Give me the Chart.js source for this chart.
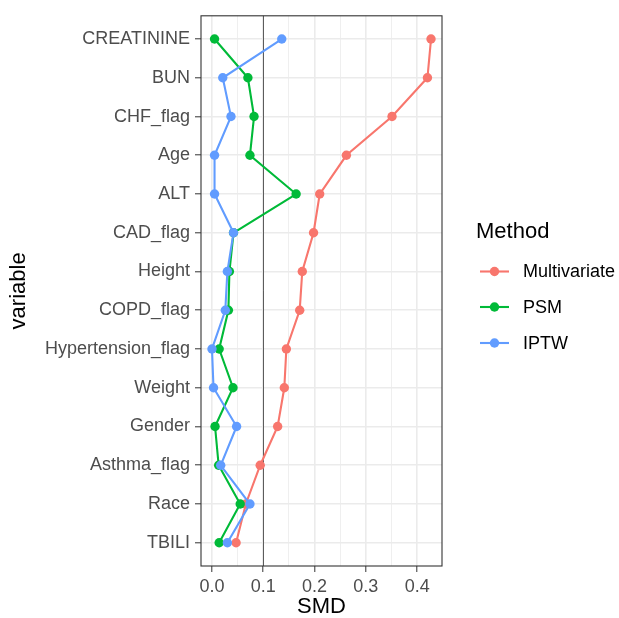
<!DOCTYPE html>
<html>
<head>
<meta charset="utf-8">
<script src="https://cdn.jsdelivr.net/npm/chart.js@4"></script>
<style>
  html, body { margin: 0; padding: 0; background: #fff; }
  #wrap { width: 619px; height: 618px; position: relative; }
</style>
</head>
<body>
<div id="wrap"><canvas id="smd-chart"></canvas></div>
<script>
// Variables, listed top to bottom
const variables = ["CREATININE", "BUN", "CHF_flag", "Age", "ALT", "CAD_flag", "Height",
  "COPD_flag", "Hypertension_flag", "Weight", "Gender", "Asthma_flag", "Race", "TBILI"];

// SMD per method
const multivariate = [0.427, 0.420, 0.351, 0.262, 0.210, 0.198, 0.176, 0.171, 0.145, 0.141, 0.128, 0.094, 0.066, 0.047];
const psm = [0.005, 0.070, 0.082, 0.074, 0.164, 0.042, 0.034, 0.032, 0.014, 0.041, 0.006, 0.013, 0.055, 0.014];
const iptw = [0.136, 0.021, 0.037, 0.005, 0.005, 0.042, 0.030, 0.026, 0.000, 0.003, 0.048, 0.017, 0.074, 0.030];

const methods = ["Multivariate", "PSM", "IPTW"];
const methodColors = ["#F8766D", "#00BA38", "#619CFF"];
const xTicks = [0, 0.05, 0.1, 0.15, 0.2, 0.25, 0.3, 0.35, 0.4];
const threshold = 0.1;

const FONT = "'Liberation Sans', Arial, Helvetica, sans-serif";

const toPoints = (vals) => vals.map((v, i) => ({ x: v, y: i }));

const series = [multivariate, psm, iptw];
const datasets = series.map((vals, k) => ({
  label: methods[k],
  data: toPoints(vals),
  borderColor: methodColors[k],
  backgroundColor: methodColors[k],
  borderWidth: 2.1,
  pointRadius: 4.7,
  pointHoverRadius: 4.7,
  pointBorderWidth: 0,
  showLine: true,
  tension: 0,
  order: series.length - k,
}));

// border, reference line, legend drawn like ggplot
const ggExtras = {
  id: "ggExtras",
  beforeDatasetsDraw(chart) {
    const { ctx, chartArea: a, scales } = chart;
    const x = scales.x.getPixelForValue(threshold);
    ctx.save();
    ctx.strokeStyle = "#5c5c5c";
    ctx.lineWidth = 1;
    ctx.beginPath();
    ctx.moveTo(Math.round(x) + 0.5, a.top);
    ctx.lineTo(Math.round(x) + 0.5, a.bottom);
    ctx.stroke();
    ctx.restore();
  },
  afterDraw(chart) {
    const { ctx, chartArea: a } = chart;
    ctx.save();
    ctx.strokeStyle = "#333333";
    ctx.lineWidth = 1.1;
    ctx.strokeRect(a.left, a.top, a.right - a.left, a.bottom - a.top);

    // legend
    ctx.fillStyle = "#000";
    ctx.font = "22px " + FONT;
    ctx.textBaseline = "middle";
    ctx.textAlign = "left";
    ctx.fillText("Method", 476, 232);
    ctx.font = "18px " + FONT;
    const ys = [271.5, 307, 343];
    methods.forEach((m, k) => {
      ctx.strokeStyle = methodColors[k];
      ctx.fillStyle = methodColors[k];
      ctx.lineWidth = 2.1;
      ctx.beginPath();
      ctx.moveTo(480, ys[k]);
      ctx.lineTo(509, ys[k]);
      ctx.stroke();
      ctx.beginPath();
      ctx.arc(494.5, ys[k], 4.7, 0, Math.PI * 2);
      ctx.fill();
      ctx.fillStyle = "#000";
      ctx.fillText(m, 523, ys[k] + 1);
    });
    ctx.restore();
  },
};

const isMajor = (v) => Math.abs(v * 10 - Math.round(v * 10)) < 1e-6;

new Chart(document.getElementById("smd-chart"), {
  type: "scatter",
  data: { datasets },
  plugins: [ggExtras],
  options: {
    responsive: true,
    maintainAspectRatio: false,
    animation: false,
    layout: { padding: { top: 14.5, right: 177, left: 0, bottom: 0 } },
    plugins: { legend: { display: false }, tooltip: { enabled: false } },
    scales: {
      x: {
        type: "linear",
        min: -0.0214,
        max: 0.4484,
        afterBuildTicks: (s) => { s.ticks = xTicks.map((v) => ({ value: v })); },
        afterFit: (s) => { s.height = 52; },
        ticks: {
          autoSkip: false,
          maxRotation: 0,
          padding: 4,
          color: "#4D4D4D",
          font: { family: FONT, size: 18 },
          callback: (v) => (isMajor(v) ? v.toFixed(1) : ""),
        },
        grid: {
          color: "#EBEBEB",
          lineWidth: (c) => (isMajor(c.tick.value) ? 1.6 : 0.8),
          tickLength: 6,
          tickColor: (c) => (isMajor(c.tick.value) ? "#333333" : "rgba(0,0,0,0)"),
          tickWidth: 1,
        },
        border: { display: false },
        title: {
          display: true,
          text: "SMD",
          color: "#000",
          font: { family: FONT, size: 22, lineHeight: 1.0 },
          padding: { top: 0, bottom: 0 },
        },
      },
      y: {
        type: "linear",
        reverse: true,
        min: -0.6,
        max: variables.length - 0.4,
        afterBuildTicks: (s) => { s.ticks = variables.map((_, i) => ({ value: i })); },
        afterFit: (s) => { s.width = 201; },
        ticks: {
          autoSkip: false,
          padding: 5,
          color: "#4D4D4D",
          font: { family: FONT, size: 18 },
          callback: (v) => variables[v] ?? "",
        },
        grid: {
          color: "#EBEBEB",
          lineWidth: 1.6,
          tickLength: 6,
          tickColor: "#333333",
          tickWidth: 1,
        },
        border: { display: false },
        title: {
          display: true,
          text: "variable",
          color: "#000",
          font: { family: FONT, size: 22 },
          padding: { top: 6, bottom: 0 },
        },
      },
    },
  },
});
</script>
</body>
</html>
